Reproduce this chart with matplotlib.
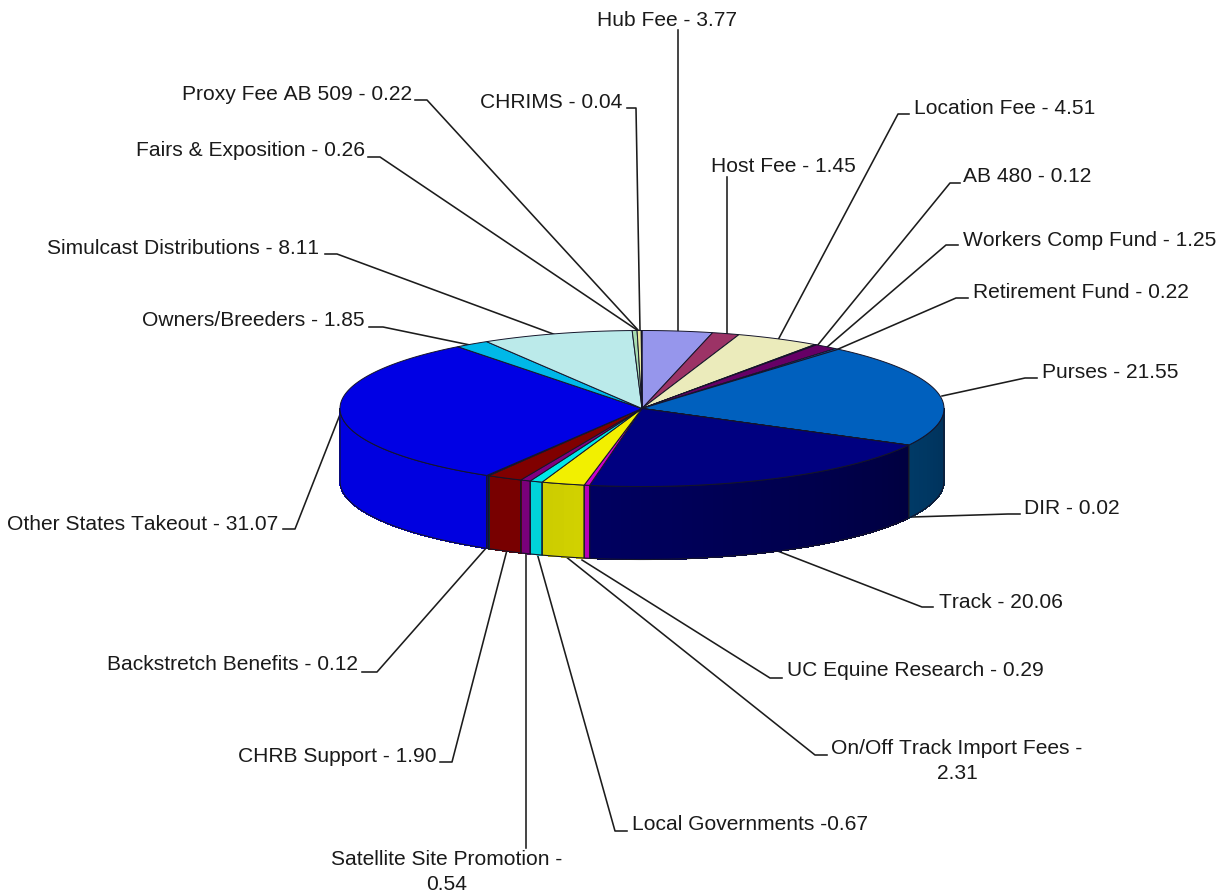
import matplotlib
matplotlib.use("Agg")
import matplotlib.pyplot as plt
import numpy as np
from matplotlib.colors import to_rgb
from matplotlib.patches import Polygon

plt.rcParams["font.family"] = ["Liberation Sans", "DejaVu Sans"]
plt.rcParams["text.kerning_factor"] = 6

# clockwise from 12 o'clock
values = [3.77, 1.45, 4.51, 0.12, 1.25, 0.22, 21.55, 0.02, 20.06, 0.29, 2.31,
          0.67, 0.54, 1.90, 0.12, 31.07, 1.85, 8.11, 0.26, 0.22, 0.04]
labels = ["Hub Fee - 3.77", "Host Fee - 1.45", "Location Fee - 4.51", "AB 480 - 0.12",
          "Workers Comp Fund - 1.25", "Retirement Fund - 0.22", "Purses - 21.55",
          "DIR - 0.02", "Track - 20.06", "UC Equine Research - 0.29",
          "On/Off Track Import Fees -\n2.31", "Local Governments -0.67",
          "Satellite Site Promotion -\n0.54", "CHRB Support - 1.90",
          "Backstretch Benefits - 0.12", "Other States Takeout - 31.07",
          "Owners/Breeders - 1.85", "Simulcast Distributions - 8.11",
          "Fairs & Exposition - 0.26", "Proxy Fee AB 509 - 0.22", "CHRIMS - 0.04"]
top_colors = ["#9696EC", "#9C3366", "#EBEBBB", "#2A2A50", "#660066", "#1A60B0", "#0060BE",
              "#00B8E8", "#000080", "#CC00CC", "#F2F000", "#00E8E8", "#800080", "#800000",
              "#006060", "#0000E4", "#00B8E8", "#BBEAEA", "#A8DDB0", "#E8E8A0", "#90C0F0"]
# wall colours at the left and right end of each visible side piece
wall_left = {6: "#003A66", 7: "#007090", 8: "#000060", 9: "#B800B8", 10: "#CCCC00",
             11: "#00D4D8", 12: "#7A007A", 13: "#780000", 14: "#004848", 15: "#0000E0"}
wall_right = {6: "#003058", 7: "#007090", 8: "#000040", 9: "#B800B8", 10: "#D2D200",
              11: "#00D4D8", 12: "#7A007A", 13: "#780000", 14: "#004848", 15: "#0000E0"}

# text anchor x, y, alignment, then the leader polyline out to the pie rim
label_pos = [(667, 20, "center"), (783, 165, "center"), (914, 108, "left"),
             (963, 176, "left"), (963, 239, "left"), (973, 292, "left"),
             (1042, 372, "left"), (1024, 507, "left"), (939, 602, "left"),
             (787, 670, "left"), (957, 760, "center"), (632, 823, "left"),
             (447, 871, "center"), (436, 755, "right"), (358, 664, "right"),
             (278, 523, "right"), (365, 320, "right"), (319, 247, "right"),
             (365, 150, "right"), (412, 93, "right"), (622, 102, "right")]
leaders = [[(678, 30), (678, 332)],
           [(727, 177), (727, 334)],
           [(909, 114), (898, 114), (778, 340)],
           [(960, 183), (950, 183), (817, 346)],
           [(958, 245), (946, 245), (826, 348)],
           [(968, 298), (956, 298), (836, 350)],
           [(1037, 378), (1025, 378), (942, 396)],
           [(1020, 514), (1008, 514), (912, 517)],
           [(933, 607), (922, 607), (775, 550)],
           [(782, 678), (770, 678), (582, 560)],
           [(827, 755), (815, 755), (565, 556)],
           [(627, 831), (615, 831), (537, 553)],
           [(526, 848), (526, 552)],
           [(440, 762), (452, 762), (507, 550)],
           [(362, 672), (377, 672), (487, 547)],
           [(283, 529), (295, 529), (341, 412)],
           [(369, 327), (383, 327), (470, 345)],
           [(325, 254), (337, 254), (556, 335)],
           [(368, 157), (380, 157), (637, 330)],
           [(415, 100), (427, 100), (638, 330)],
           [(627, 108), (636, 108), (640, 330)]]

CX, CY = 642, 408.5
RX, RY = 302, 78
DEPTH = 73
EDGE = "#15152a"


def rim(theta, dy=0.0):
    return np.column_stack([CX + RX * np.sin(theta), CY - RY * np.cos(theta) + dy])


fig = plt.figure(figsize=(12.25, 8.92), dpi=100)
ax = fig.add_axes([0, 0, 1, 1])
ax.set_xlim(0, 1225)
ax.set_ylim(892, 0)
ax.axis("off")

for pts in leaders:
    xs, ys = zip(*pts)
    ax.plot(xs, ys, color="#1c1c1c", lw=1.15, zorder=1, solid_joinstyle="round")

edges = np.concatenate([[0], np.cumsum(values)]) / sum(values) * 2 * np.pi

# side wall, only the front half of the rim shows
for i in wall_left:
    t0 = max(edges[i], np.pi / 2)
    t1 = min(edges[i + 1], 3 * np.pi / 2)
    if t1 <= t0:
        continue
    n = max(2, int((t1 - t0) * 30))
    ts = np.linspace(t0, t1, n + 1)
    # theta runs right to left along the front
    c_right, c_left = np.array(to_rgb(wall_right[i])), np.array(to_rgb(wall_left[i]))
    for k in range(n):
        seg = np.linspace(ts[k], ts[k + 1], 3)
        poly = np.vstack([rim(seg), rim(seg[::-1], DEPTH)])
        col = c_right + (c_left - c_right) * (k + 0.5) / n
        ax.add_patch(Polygon(poly, closed=True, fc=col, ec=col, lw=0.5,
                             antialiased=False, zorder=2))
    outline = np.vstack([rim(ts), rim(ts[::-1], DEPTH)])
    ax.add_patch(Polygon(outline, closed=True, fc="none", ec=EDGE, lw=0.8, zorder=3))

# top face
for i, col in enumerate(top_colors):
    ts = np.linspace(edges[i], edges[i + 1], max(3, int((edges[i + 1] - edges[i]) * 80)))
    poly = np.vstack([[CX, CY], rim(ts)])
    ax.add_patch(Polygon(poly, closed=True, fc=col, ec=EDGE, lw=0.7, zorder=4))

for text, (x, y, ha) in zip(labels, label_pos):
    ax.text(x, y + 1, text, ha=ha, va="center", fontsize=15.1, color="#1a1a1a",
            linespacing=1.35, zorder=5)

fig.savefig("out.png", dpi=100)
